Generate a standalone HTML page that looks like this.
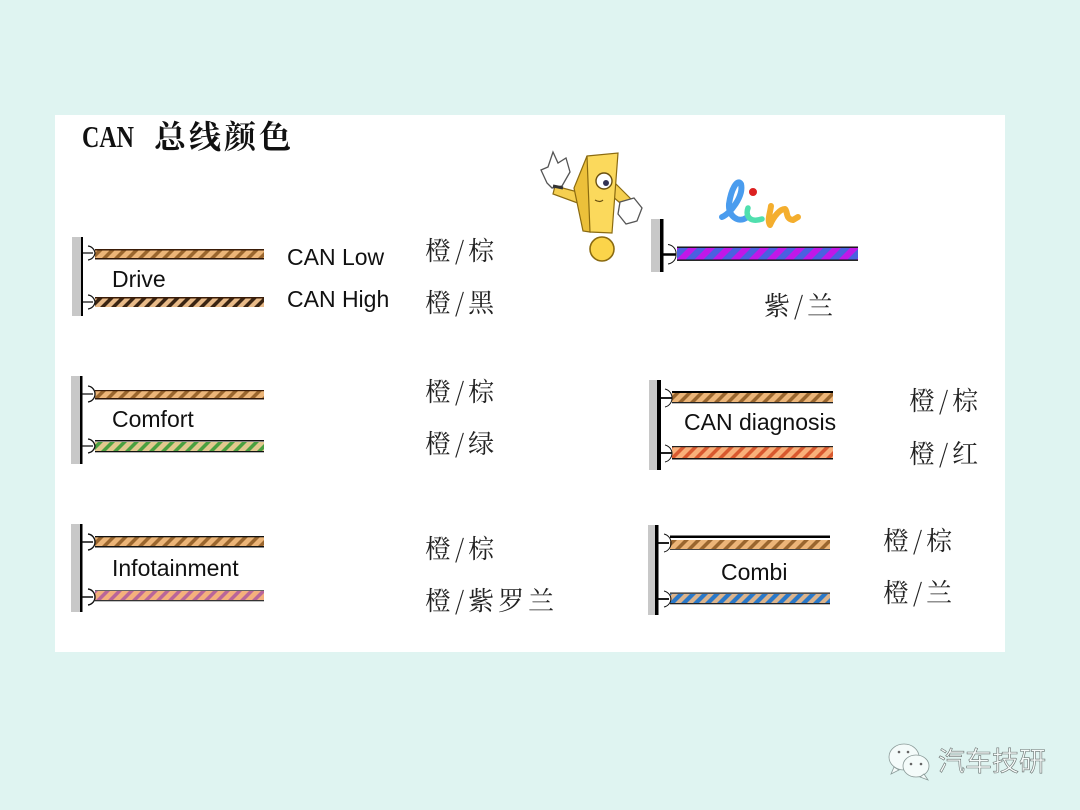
<!DOCTYPE html>
<html><head><meta charset="utf-8">
<style>
html,body{margin:0;padding:0;background:#dff4f1;width:1080px;height:810px;overflow:hidden}
svg{display:block}
text{font-family:"Liberation Sans",sans-serif;fill:#111}
.cjk{font-family:"Noto Serif CJK SC","Liberation Serif",serif;font-size:26px;fill:#222;letter-spacing:4px}
.lab{font-size:23px}
</style></head>
<body>
<svg width="1080" height="810" viewBox="0 0 1080 810" xmlns="http://www.w3.org/2000/svg">
<defs>
<pattern id="pBrown" width="12" height="12" patternUnits="userSpaceOnUse" patternTransform="skewX(-45)"><rect width="12" height="12" fill="#ecb578"/><rect width="5" height="12" fill="#9a662e"/></pattern>
<pattern id="pBlack" width="11" height="12" patternUnits="userSpaceOnUse" patternTransform="skewX(-45)"><rect width="11" height="12" fill="#e8ba88"/><rect width="5" height="12" fill="#3a2412"/></pattern>
<pattern id="pGreen" width="12" height="12" patternUnits="userSpaceOnUse" patternTransform="skewX(-45)"><rect width="12" height="12" fill="#e2c88e"/><rect width="5" height="12" fill="#4aa040"/></pattern>
<pattern id="pViolet" width="12" height="12" patternUnits="userSpaceOnUse" patternTransform="skewX(-45)"><rect width="12" height="12" fill="#f4b07c"/><rect width="5" height="12" fill="#b9659a"/></pattern>
<pattern id="pRed" width="12" height="12" patternUnits="userSpaceOnUse" patternTransform="skewX(-45)"><rect width="12" height="12" fill="#f9b07a"/><rect width="5" height="12" fill="#d9592f"/></pattern>
<pattern id="pBlue" width="12" height="14" patternUnits="userSpaceOnUse" patternTransform="skewX(-45)"><rect width="12" height="14" fill="#dcb48c"/><rect width="6" height="14" fill="#2a78c8"/></pattern>
<pattern id="pLin" width="18" height="14" patternUnits="userSpaceOnUse" patternTransform="skewX(-45)"><rect width="18" height="14" fill="#4a60e0"/><rect width="9" height="14" fill="#c018e8"/></pattern>
</defs>

<rect x="55" y="115" width="950" height="537" fill="#fff"/>

<text x="82" y="147" style="font-family:'Liberation Serif',serif;font-weight:bold;font-size:31px" textLength="52" lengthAdjust="spacingAndGlyphs">CAN</text>
<text x="154" y="148" style="font-family:'Noto Serif CJK SC',serif;font-weight:700;font-size:32px;letter-spacing:3px">总线颜色</text>

<!-- Drive -->
<rect x="72" y="237" width="9" height="79" fill="#c8c8c8"/><rect x="81" y="237" width="2" height="79" fill="#000"/>
<rect x="95" y="250" width="169" height="9" fill="url(#pBrown)"/><rect x="95" y="249" width="169" height="1.5" fill="#3a1c08"/><rect x="95" y="258" width="169" height="1.5" fill="#2a1408"/>
<rect x="95" y="298" width="169" height="9" fill="url(#pBlack)"/><rect x="95" y="297" width="169" height="1.5" fill="#3a1c08"/>
<path d="M83 253h10M88 246a8 8 0 0 1 7 7a8 8 0 0 1-7 7M83 302h10M88 295a8 8 0 0 1 7 7a8 8 0 0 1-7 7" fill="none" stroke="#111" stroke-width="1.2"/>
<text class="lab" x="112" y="287">Drive</text>
<text class="lab" x="287" y="265">CAN Low</text>
<text class="lab" x="287" y="307">CAN High</text>
<text class="cjk" x="425" y="260">橙/棕</text>
<text class="cjk" x="425" y="312">橙/黑</text>

<!-- Comfort -->
<rect x="71" y="376" width="9" height="88" fill="#c8c8c8"/><rect x="80" y="376" width="2.5" height="88" fill="#000"/>
<rect x="95" y="391" width="169" height="8" fill="url(#pBrown)"/><rect x="95" y="390" width="169" height="1.2" fill="#3a1c08"/><rect x="95" y="398" width="169" height="1.5" fill="#2a1408"/>
<rect x="95" y="442" width="169" height="9" fill="url(#pGreen)"/><rect x="95" y="440" width="169" height="1.5" fill="#111"/><rect x="95" y="451" width="169" height="1.3" fill="#111"/>
<path d="M82 394h11M88 386a8 8 0 0 1 7 8a8 8 0 0 1-7 8M82 446h11M88 439a8 8 0 0 1 7 7a8 8 0 0 1-7 7" fill="none" stroke="#111" stroke-width="1.3"/>
<text class="lab" x="112" y="427">Comfort</text>
<text class="cjk" x="425" y="401">橙/棕</text>
<text class="cjk" x="425" y="453">橙/绿</text>

<!-- Infotainment -->
<rect x="71" y="524" width="9" height="88" fill="#c8c8c8"/><rect x="80" y="524" width="2.5" height="88" fill="#000"/>
<rect x="95" y="537" width="169" height="9" fill="url(#pBrown)"/><rect x="95" y="536" width="169" height="1.3" fill="#111"/><rect x="95" y="546" width="169" height="1.5" fill="#111"/>
<rect x="95" y="591" width="169" height="9" fill="url(#pViolet)"/><rect x="95" y="590" width="169" height="1" fill="#666"/><rect x="95" y="600" width="169" height="1.3" fill="#333"/>
<path d="M82 542h11M88 534a8 8 0 0 1 7 8a8 8 0 0 1-7 8M82 597h11M88 589a8 8 0 0 1 7 8a8 8 0 0 1-7 8" fill="none" stroke="#111" stroke-width="1.4"/>
<text class="lab" x="112" y="576">Infotainment</text>
<text class="cjk" x="425" y="558">橙/棕</text>
<text class="cjk" x="425" y="610">橙/紫罗兰</text>

<!-- Exclamation mascot -->
<g stroke="#8a6a10" stroke-width="1.2">
<path d="M555 186L578 192L586 199L583 205L553 194Z" fill="#f5cf50"/>
<path d="M616 184L632 200L626 208L612 196Z" fill="#f5cf50"/>
<path d="M587 156L618 153L612 233L590 232L578 190Z" fill="#fbd95c"/>
<path d="M587 156L590 232L583 231L574 188Z" fill="#ecc03a"/>
<circle cx="602" cy="249" r="12" fill="#fbd44a" stroke-width="1.6"/>
</g>
<path d="M547 183L541 170L548 167L553 152L558 163L566 158L570 172L562 186L552 188Z" fill="#fff" stroke="#555" stroke-width="1.3"/>
<path d="M553 186l10 2" stroke="#333" stroke-width="3"/>
<path d="M620 202L634 198L642 208L637 221L626 224L618 214Z" fill="#fff" stroke="#555" stroke-width="1.3"/>
<ellipse cx="604" cy="181" rx="8" ry="8" fill="#fff" stroke="#6a5010" stroke-width="1.4"/><circle cx="606" cy="183" r="3" fill="#335"/>
<path d="M595 200q5 3 8 0" fill="none" stroke="#6a5010" stroke-width="1.2"/>

<!-- lin logo -->
<g fill="none" stroke-linecap="round" stroke-linejoin="round">
<path d="M722 217C730 214 744 196 741 184C737 178 731 190 729 204C728 216 738 223 746 218" stroke="#4a9cee" stroke-width="6"/>
<path d="M748 208C745 216 750 223 762 219" stroke="#50dfae" stroke-width="5.500"/>
<circle cx="753" cy="192" r="3" fill="#dc2020" stroke="#dc2020" stroke-width="2"/>
<path d="M771 206C770 214 767 220 770 225C774 216 780 209 785 209C788 211 785 219 793 220L798 217" stroke="#f4ae2e" stroke-width="6"/>
</g>

<!-- LIN wire -->
<rect x="651" y="219" width="9" height="53" fill="#c8c8c8"/><rect x="660" y="219" width="3.5" height="53" fill="#000"/>
<rect x="677" y="247" width="181" height="13" fill="url(#pLin)"/><rect x="677" y="246.5" width="181" height="1.4" fill="#111"/><rect x="677" y="259.5" width="181" height="1.4" fill="#111"/>
<path d="M663 254.500h13" stroke="#000" stroke-width="2.500"/>
<path d="M668 244.500a9 9 0 0 1 8 10a9 9 0 0 1-8 9.500" fill="none" stroke="#111" stroke-width="1"/>
<text class="cjk" x="764" y="315">紫/兰</text>

<!-- CAN diagnosis -->
<rect x="649" y="380" width="8" height="90" fill="#c8c8c8"/><rect x="657" y="380" width="4" height="90" fill="#000"/>
<rect x="672" y="392" width="161" height="10" fill="url(#pBrown)"/><rect x="672" y="391" width="161" height="2" fill="#000"/><rect x="672" y="402" width="161" height="1.3" fill="#222"/>
<rect x="672" y="447" width="161" height="11" fill="url(#pRed)"/><rect x="672" y="446" width="161" height="1.2" fill="#222"/><rect x="672" y="458" width="161" height="1.5" fill="#111"/>
<path d="M661 398h11M661 453h11" stroke="#000" stroke-width="1.800"/>
<path d="M665 389a9 9 0 0 1 7 9a9 9 0 0 1-7 9M665 445a9 9 0 0 1 7 8a9 9 0 0 1-7 9" fill="none" stroke="#111" stroke-width="1"/>
<text class="lab" x="684" y="430">CAN diagnosis</text>
<text class="cjk" x="909" y="410">橙/棕</text>
<text class="cjk" x="909" y="463">橙/红</text>

<!-- Combi -->
<rect x="648" y="525" width="7" height="90" fill="#c8c8c8"/><rect x="655" y="525" width="3.500" height="90" fill="#000"/>
<rect x="670" y="540" width="160" height="9" fill="url(#pBrown)"/><rect x="670" y="535.500" width="160" height="2.500" fill="#000"/><rect x="670" y="549" width="160" height="1" fill="#444"/>
<rect x="670" y="594" width="160" height="9" fill="url(#pBlue)"/><rect x="670" y="592.500" width="160" height="1.300" fill="#222"/><rect x="670" y="603" width="160" height="1.300" fill="#222"/>
<path d="M658 543h11M658 599h11" stroke="#000" stroke-width="1.800"/>
<path d="M664 534a9 9 0 0 1 7 9a9 9 0 0 1-7 9M664 591a9 9 0 0 1 7 8a9 9 0 0 1-7 8" fill="none" stroke="#111" stroke-width="1"/>
<text class="lab" x="721" y="580">Combi</text>
<text class="cjk" x="883" y="550">橙/棕</text>
<text class="cjk" x="883" y="602">橙/兰</text>

<!-- Watermark -->
<g fill="#f4fbfa" stroke="#8a9a98" stroke-width="0.800">
<ellipse cx="904" cy="757" rx="15" ry="13"/>
<path d="M894 767l-3 7 8-4z"/>
<ellipse cx="916" cy="766" rx="13" ry="11"/>
<path d="M924 774l4 6-8-3z"/>
</g>
<g fill="#666"><circle cx="899" cy="752" r="1.300"/><circle cx="908" cy="752" r="1.300"/><circle cx="911" cy="764" r="1.300"/><circle cx="921" cy="764" r="1.300"/></g>
<text x="938" y="771" style="font-family:'Noto Sans CJK SC',sans-serif;font-size:27px;fill:#f6fbfa;stroke:#68716f;stroke-width:0.600">汽车技研</text>
</svg>
</body></html>
